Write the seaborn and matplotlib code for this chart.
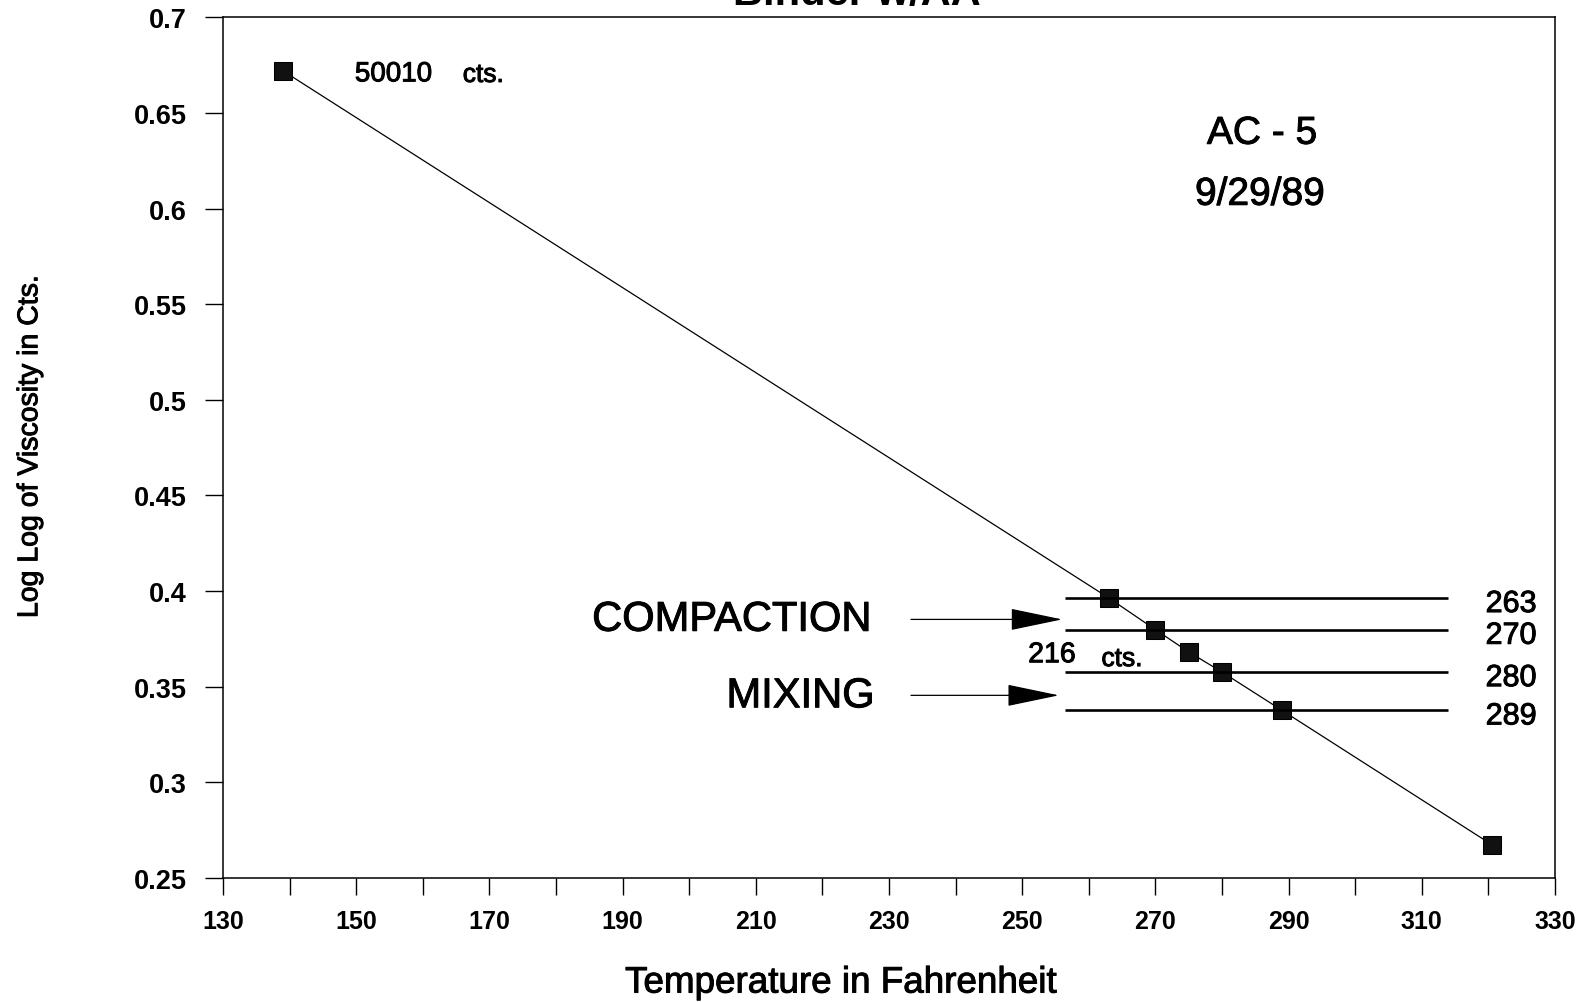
import numpy as np
import pandas as pd
import matplotlib
matplotlib.use("Agg")
import matplotlib.pyplot as plt
import matplotlib.patheffects as pe
from matplotlib.ticker import FixedLocator, MultipleLocator, FixedFormatter
import seaborn as sns

# Temperature / viscosity measurements for the AC-5 binder
temp_f = [139, 263, 270, 275, 280, 289, 320.5]
visc_cst = [50010, 310, 250, 216, 190, 150, 71]

# Compaction / mixing viscosity limits (cSt) and the temperatures they give
range_visc = [310, 250, 190, 150]
range_temp_labels = ["263", "270", "280", "289"]

x_ticks = [130, 150, 170, 190, 210, 230, 250, 270, 290, 310, 330]
y_ticks = [0.25, 0.3, 0.35, 0.4, 0.45, 0.5, 0.55, 0.6, 0.65, 0.7]
y_tick_labels = ["0.25", "0.3", "0.35", "0.4", "0.45", "0.5", "0.55", "0.6", "0.65", "0.7"]


def loglog(v):
    return np.log10(np.log10(np.asarray(v, dtype=float)))


df = pd.DataFrame({"temp": temp_f, "loglog": loglog(visc_cst)})

sns.set_theme(style="ticks")
plt.rcParams["font.family"] = ["Liberation Sans", "DejaVu Sans"]

# slightly heavier strokes for the lettering
heavy = [pe.withStroke(linewidth=0.7, foreground="black")]

fig = plt.figure(figsize=(15.9, 10.03), dpi=100)
ax = fig.add_axes([223 / 1590, 1 - 879 / 1003, (1555 - 223) / 1590, (879 - 18.3) / 1003])

sns.lineplot(data=df, x="temp", y="loglog", ax=ax, color="black", linewidth=0.9,
             marker="s", markersize=12.5, markeredgecolor="black", markerfacecolor="#111111")

# Horizontal limit lines with their temperatures
range_y = loglog(range_visc)
ax.hlines(range_y, 256.5, 314, colors="black", linewidth=1.9)
for yy, lab in zip(range_y, range_temp_labels):
    ax.text(323.4, yy - 0.0032, lab, ha="center", va="center", fontsize=22,
            color="black", path_effects=heavy)

# Compaction and mixing arrows
arrow_kw = dict(arrowstyle="-|>,head_length=2.4,head_width=0.5", mutation_scale=14,
                lw=0.9, color="black", shrinkA=0, shrinkB=0)
ax.annotate("", xy=(256.0, 0.3852), xytext=(233.3, 0.3852), arrowprops=arrow_kw)
ax.annotate("", xy=(255.5, 0.3455), xytext=(233.3, 0.3455), arrowprops=arrow_kw)
ax.text(227.3, 0.3850, "COMPACTION", ha="right", va="center", fontsize=30,
        color="black", path_effects=heavy)
ax.text(227.8, 0.3450, "MIXING", ha="right", va="center", fontsize=30,
        color="black", path_effects=heavy)

# Point annotations
ax.text(149.8, 0.6665, "50010", ha="left", va="baseline", fontsize=20, color="black",
        path_effects=heavy)
ax.text(166.0, 0.6662, "cts.", ha="left", va="baseline", fontsize=19, color="black",
        path_effects=heavy)
ax.text(250.9, 0.3628, "216", ha="left", va="baseline", fontsize=20.5, color="black",
        path_effects=heavy)
ax.text(261.9, 0.3608, "cts.", ha="left", va="baseline", fontsize=19, color="black",
        path_effects=heavy)

ax.text(286.0, 0.6391, "AC - 5", ha="center", va="center", fontsize=28, color="black",
        path_effects=heavy)
ax.text(285.7, 0.6072, "9/29/89", ha="center", va="center", fontsize=28, color="black",
        path_effects=heavy)

# Axes limits, ticks and spines
ax.set_xlim(130, 330)
ax.set_ylim(0.25, 0.7)
ax.xaxis.set_major_locator(FixedLocator(x_ticks))
ax.xaxis.set_minor_locator(MultipleLocator(10))
ax.yaxis.set_major_locator(FixedLocator(y_ticks))
ax.yaxis.set_major_formatter(FixedFormatter(y_tick_labels))
ax.tick_params(axis="x", which="both", direction="out", length=12, width=1.0,
               pad=10.5, labelsize=18, colors="black")
ax.tick_params(axis="y", which="major", direction="out", length=13, width=1.0,
               pad=13, labelsize=19.5, colors="black")
for lab in ax.get_xticklabels() + ax.get_yticklabels():
    lab.set_fontweight("bold")
for side in ["left", "right", "top", "bottom"]:
    ax.spines[side].set_visible(True)
    ax.spines[side].set_color("black")
    ax.spines[side].set_linewidth(1.1)

ax.set_xlabel("Temperature in Fahrenheit", fontsize=26.5, color="black", va="baseline",
              path_effects=heavy)
ax.xaxis.set_label_coords(0.4633, -0.1331)
ax.set_ylabel("Log Log of Viscosity in Cts.", fontsize=20.5, color="black", va="center",
              path_effects=heavy)
ax.yaxis.set_label_coords(-0.1447, 0.5013)

fig.text(857 / 1590, 1 - 5 / 1003, "Binder w/AA", ha="center", va="baseline",
         fontsize=30, fontweight="bold", color="black")

fig.savefig("out.png", dpi=100, facecolor="white")
